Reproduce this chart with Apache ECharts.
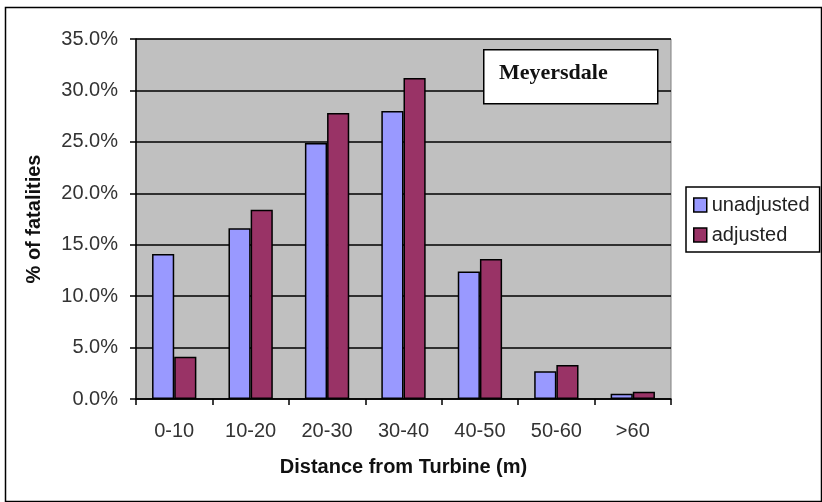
<!DOCTYPE html>
<html>
<head>
<meta charset="utf-8">
<script src="https://cdn.jsdelivr.net/npm/echarts@6/dist/echarts.min.js"></script>
<style>
  html, body { margin: 0; padding: 0; background: #fff; }
  #chart { width: 822px; height: 502px; }
</style>
</head>
<body>
<div id="chart"></div>
<script>
// distance bins
var categories = ['0-10', '10-20', '20-30', '30-40', '40-50', '50-60', '>60'];
// % of fatalities
var unadjusted = [14.1, 16.6, 24.9, 28.0, 12.4, 2.7, 0.5];
var adjusted = [4.1, 18.4, 27.8, 31.2, 13.6, 3.3, 0.7];
var yTicks = [0, 5, 10, 15, 20, 25, 30, 35];

var font = '"Liberation Sans", Arial, sans-serif';

var myChart = echarts.init(document.getElementById('chart'));
myChart.setOption({
    animation: false,
    backgroundColor: '#fff',
    grid: {
        left: 136,
        right: 151,
        top: 39,
        bottom: 103,
        show: true,
        backgroundColor: '#c0c0c0',
        borderColor: '#808080',
        borderWidth: 1
    },
    legend: {
        orient: 'vertical',
        left: 686,
        top: 187,
        padding: [8, 10, 7, 7],
        itemGap: 10,
        itemWidth: 13,
        itemHeight: 14,
        itemStyle: { borderColor: '#000', borderWidth: 1.5 },
        icon: 'rect',
        borderColor: '#000',
        borderWidth: 1.5,
        backgroundColor: '#fff',
        textStyle: { fontFamily: font, fontSize: 20, color: '#222' },
        data: ['unadjusted', 'adjusted']
    },
    graphic: [
        {
            type: 'rect',
            left: 3, top: 5,
            shape: { width: 816, height: 494 },
            style: { fill: 'none', stroke: '#000', lineWidth: 1.5 },
            z: -1
        },
        {
            type: 'rect',
            left: 483, top: 49,
            z: 100,
            shape: { width: 174, height: 54 },
            style: { fill: '#fff', stroke: '#000', lineWidth: 1.5 }
        },
        {
            type: 'text',
            left: 499, top: 62,
            z: 101,
            style: {
                text: 'Meyersdale',
                font: 'bold 22px "Liberation Serif", "DejaVu Serif", serif',
                fill: '#111'
            }
        }
    ],
    xAxis: {
        type: 'category',
        data: categories,
        name: 'Distance from Turbine (m)',
        nameLocation: 'middle',
        nameGap: 58,
        nameTextStyle: { fontFamily: font, fontSize: 20, fontWeight: 'bold', color: '#111' },
        axisLine: { lineStyle: { color: '#000', width: 1.5 } },
        axisTick: { show: true, length: 6, lineStyle: { color: '#000', width: 1.5 } },
        axisLabel: { fontFamily: font, fontSize: 20, color: '#333', margin: 22 }
    },
    yAxis: {
        type: 'value',
        min: yTicks[0],
        max: yTicks[yTicks.length - 1],
        interval: 5,
        name: '% of fatalities',
        nameLocation: 'middle',
        nameGap: 92,
        nameTextStyle: { fontFamily: font, fontSize: 20, fontWeight: 'bold', color: '#111' },
        axisLine: { show: true, lineStyle: { color: '#000', width: 1.5 } },
        axisTick: { show: true, length: 6, lineStyle: { color: '#000', width: 1.5 } },
        axisLabel: {
            fontFamily: font, fontSize: 20, color: '#333', margin: 18,
            formatter: function (v) { return v.toFixed(1) + '%'; }
        },
        splitLine: { lineStyle: { color: '#000', width: 1.5 } }
    },
    series: [
        {
            name: 'unadjusted',
            type: 'bar',
            data: unadjusted,
            barGap: '0%',
            barCategoryGap: '42%',
            itemStyle: { color: '#9999ff', borderColor: '#000', borderWidth: 1.5 }
        },
        {
            name: 'adjusted',
            type: 'bar',
            data: adjusted,
            itemStyle: { color: '#993366', borderColor: '#000', borderWidth: 1.5 }
        }
    ]
});
</script>
</body>
</html>
